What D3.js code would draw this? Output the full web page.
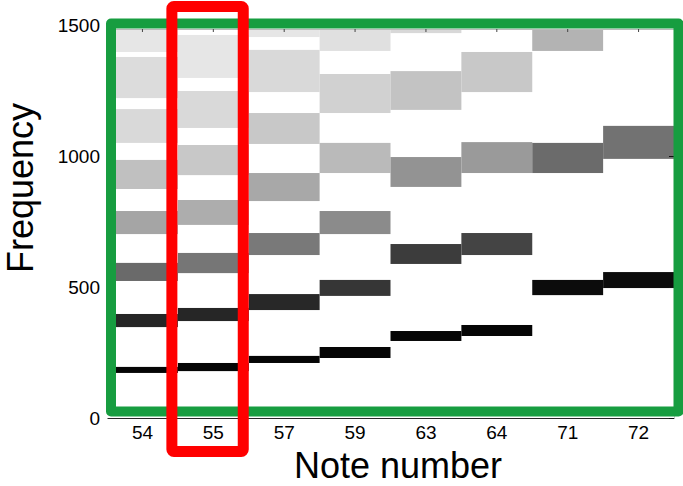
<!DOCTYPE html>
<html>
<head>
<meta charset="utf-8">
<script src="https://cdn.jsdelivr.net/npm/d3@7"></script>
<style>
  html, body { margin: 0; padding: 0; background: #ffffff; }
  svg { display: block; }
  text { font-family: "Liberation Sans", Arial, sans-serif; fill: #000; }
</style>
</head>
<body>
<svg id="chart" width="683" height="486"></svg>
<script>
// ---- data ----
const notes = ["54", "55", "57", "59", "63", "64", "71", "72"];
const yTickValues = [0, 500, 1000, 1500];
const xTitle = "Note number";
const yTitle = "Frequency";
const highlightNote = "55";

// lower edge (Hz) of each partial band, per note
const bandLow = [
  [172, 347, 523, 702, 874, 1050, 1221, 1397],
  [179, 370, 553, 737, 927, 1107, 1298],
  [210, 412, 622, 828, 1046, 1244, 1454],
  [229, 466, 702, 935, 1164, 1401],
  [294, 588, 882, 1176, 1469],
  [313, 622, 935, 1244],
  [469, 935, 1401],
  [496, 989]
];
// upper edge (Hz) of each partial band, per note
const bandHigh = [
  [195, 397, 592, 790, 985, 1179, 1378, 1570],
  [210, 420, 630, 832, 1042, 1248, 1462],
  [237, 473, 706, 935, 1164, 1405, 1620],
  [271, 527, 790, 1050, 1313, 1563],
  [332, 664, 996, 1324, 1640],
  [355, 706, 1053, 1397],
  [527, 1050, 1563],
  [557, 1115]
];
// relative strength (0 = white, 1 = black) of each partial band
const bandLevel = [
  [0.98, 0.851, 0.584, 0.353, 0.247, 0.149, 0.137, 0.098],
  [0.98, 0.851, 0.537, 0.322, 0.216, 0.149, 0.098],
  [0.98, 0.843, 0.525, 0.341, 0.216, 0.149, 0.098],
  [0.98, 0.788, 0.455, 0.271, 0.180, 0.122],
  [0.98, 0.765, 0.424, 0.235, 0.153],
  [0.98, 0.733, 0.396, 0.216],
  [0.953, 0.580, 0.298],
  [0.953, 0.553]
];

// ---- layout ----
const plot = { left: 107, right: 674, top: 29, bottom: 418 };
const svg = d3.select("#chart");

const x = d3.scaleBand().domain(notes).range([plot.left, plot.right]).padding(0);
const y = d3.scaleLinear().domain([0, 1500]).range([plot.bottom, 25]);
const shade = d3.scaleLinear().domain([0, 1]).range(["#ffffff", "#000000"]);

// rows for drawing
const bands = [];
notes.forEach((n, i) => {
  bandLow[i].forEach((lo, j) => {
    bands.push({ note: n, lo: lo, hi: bandHigh[i][j], level: bandLevel[i][j] });
  });
});

svg.append("defs").append("clipPath").attr("id", "plotClip")
  .append("rect")
  .attr("x", plot.left).attr("y", plot.top)
  .attr("width", plot.right - plot.left).attr("height", plot.bottom - plot.top);

svg.append("g").attr("clip-path", "url(#plotClip)")
  .selectAll("rect")
  .data(bands)
  .join("rect")
  .attr("x", d => x(d.note))
  .attr("width", x.bandwidth())
  .attr("y", d => y(d.hi))
  .attr("height", d => y(d.lo) - y(d.hi))
  .attr("fill", d => shade(d.level));

// axes
const axisColor = "#262626";
const bottomAxis = svg.append("g")
  .attr("transform", `translate(0,${plot.bottom})`)
  .call(d3.axisBottom(x).tickSize(0).tickPadding(8));
bottomAxis.select(".domain").attr("stroke", axisColor);
bottomAxis.selectAll("text").attr("font-size", 19)
  .style("font-family", "'Liberation Sans', Arial, sans-serif");

const topAxis = svg.append("g")
  .attr("transform", `translate(0,${plot.top})`)
  .call(d3.axisTop(x).tickSizeInner(-3).tickSizeOuter(0).tickFormat(""));
topAxis.select(".domain").attr("stroke", "#bbbbbb");
topAxis.selectAll("line").attr("stroke", "#444444");

const leftAxis = svg.append("g")
  .attr("transform", `translate(${plot.left},0)`)
  .call(d3.axisLeft(y).tickValues(yTickValues).tickFormat(d3.format("d")).tickSize(0).tickPadding(7));
leftAxis.select(".domain").remove();
leftAxis.selectAll("text").attr("font-size", 19)
  .style("font-family", "'Liberation Sans', Arial, sans-serif");

const rightAxis = svg.append("g")
  .attr("transform", `translate(${plot.right},0)`)
  .call(d3.axisRight(y).tickValues(yTickValues).tickSizeInner(-5).tickSizeOuter(0).tickFormat(""));
rightAxis.select(".domain").attr("stroke", "#cccccc");
rightAxis.selectAll("line").attr("stroke", "#111111");

// titles
svg.append("text")
  .attr("x", 398).attr("y", 478)
  .attr("text-anchor", "middle")
  .attr("font-size", 36)
  .text(xTitle);

svg.append("text")
  .attr("transform", "translate(33,188) rotate(-90)")
  .attr("text-anchor", "middle")
  .attr("font-size", 36)
  .text(yTitle);

// green frame around the plot
svg.append("rect")
  .attr("x", 111).attr("y", 23.5)
  .attr("width", 567.5).attr("height", 388)
  .attr("fill", "none")
  .attr("stroke", "#179d40")
  .attr("stroke-width", 10)
  .attr("stroke-linejoin", "round");

// red highlight around one note column
const hx = x(highlightNote);
svg.append("rect")
  .attr("x", hx - 6).attr("y", 6.5)
  .attr("width", x.bandwidth() + 0.5).attr("height", 445)
  .attr("rx", 2)
  .attr("fill", "none")
  .attr("stroke", "#ff0000")
  .attr("stroke-width", 11)
  .attr("stroke-linejoin", "round");
</script>
</body>
</html>
